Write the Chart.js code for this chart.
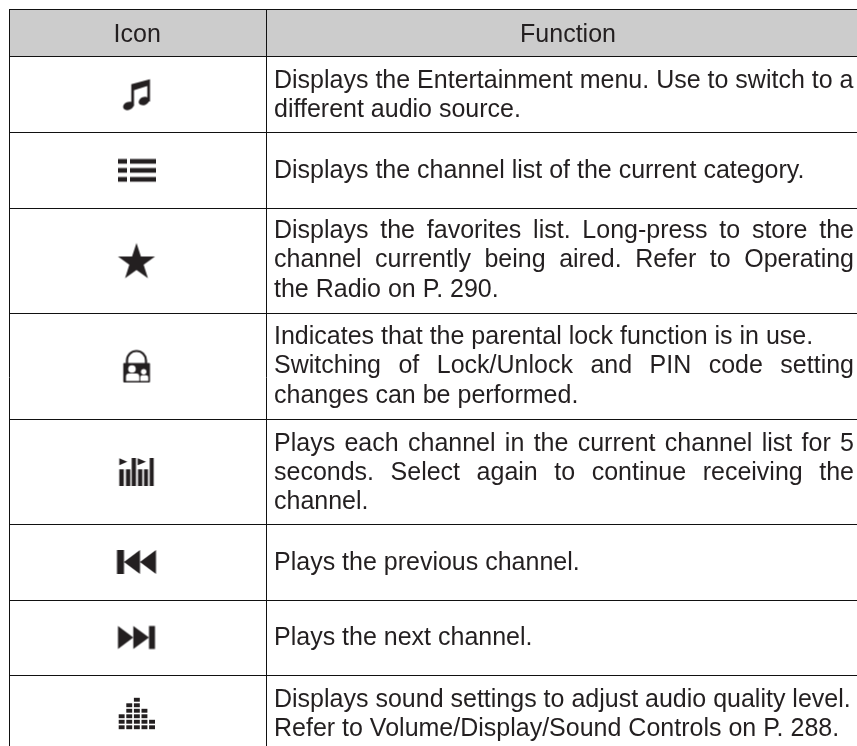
<!DOCTYPE html>
<html>
<head>
<meta charset="utf-8">
<style>
  body { margin: 0; background: #fff; }
  canvas { display: block; }
</style>
<script src="https://cdn.jsdelivr.net/npm/chart.js@4"></script>
</head>
<body>
<canvas id="tableChart" width="857" height="746"></canvas>
<script>
// table structure
const colEdges = [9.5, 266.5];
const rowEdges = [9.5, 56, 132, 208, 313, 419, 524, 600, 675];
const headerLabels = ['Icon', 'Function'];

const iconNames = ['music', 'list', 'star', 'lock', 'scan', 'prev', 'next', 'sound'];
const iconX = [136.5, 137, 136.5, 136.5, 136.5, 136.5, 136.5, 137];
const iconY = [94.5, 170.5, 260.5, 366.5, 472, 562, 637.5, 714];

const functionLines = [
  'Displays the Entertainment menu. Use to switch to a',
  'different audio source.',
  'Displays the channel list of the current category.',
  'Displays the favorites list. Long-press to store the',
  'channel currently being aired. Refer to Operating',
  'the Radio on P. 290.',
  'Indicates that the parental lock function is in use.',
  'Switching of Lock/Unlock and PIN code setting',
  'changes can be performed.',
  'Plays each channel in the current channel list for 5',
  'seconds. Select again to continue receiving the',
  'channel.',
  'Plays the previous channel.',
  'Plays the next channel.',
  'Displays sound settings to adjust audio quality level.',
  'Refer to Volume/Display/Sound Controls on P. 288.'
];
const lineBaselines = [87.5, 116.5, 177.5, 238, 267, 297, 344, 373, 402.5, 450.5, 479.5, 509, 570, 645, 707, 736];
const justifiedLines = [3, 4, 7, 9, 10];

const INK = '#231f20';
const FONT = '25px "Liberation Sans", Arial, sans-serif';
const TEXT_LEFT = 274;
const TEXT_RIGHT = 854;

// each icon goes on its own little canvas so it can be a point style
function makeIcon(draw) {
  const c = document.createElement('canvas');
  c.width = 48;
  c.height = 48;
  const g = c.getContext('2d');
  g.translate(24, 24);
  g.fillStyle = INK;
  g.strokeStyle = INK;
  draw(g);
  return c;
}

function poly(g, pts) {
  g.beginPath();
  pts.forEach((p, i) => (i ? g.lineTo(p[0], p[1]) : g.moveTo(p[0], p[1])));
  g.closePath();
  g.fill();
}

const iconDrawers = {
  music(g) {
    poly(g, [[-5.2, -10.3], [13.5, -15.3], [13.5, 7], [10.8, 7], [10.8, -8.4], [-2.5, -4.3], [-2.5, 11.5], [-5.2, 11.5]]);
    g.beginPath();
    g.ellipse(-8.1, 11.4, 5.5, 4, -0.4, 0, Math.PI * 2);
    g.ellipse(7.5, 6.5, 5.5, 4, -0.4, 0, Math.PI * 2);
    g.fill();
  },
  list(g) {
    [-11.5, -2.5, 6.5].forEach(y => {
      g.fillRect(-19, y, 9, 4.7);
      g.fillRect(-7, y, 26, 4.7);
    });
  },
  star(g) {
    const pts = [];
    for (let i = 0; i < 10; i++) {
      const r = i % 2 ? 7.5 : 19.5;
      const a = -Math.PI / 2 + i * Math.PI / 5;
      pts.push([r * Math.cos(a), 2 + r * Math.sin(a)]);
    }
    poly(g, pts);
  },
  lock(g) {
    g.lineWidth = 2.2;
    g.beginPath();
    g.moveTo(-9.5, -2);
    g.lineTo(-9.5, -6);
    g.arc(0, -6, 9.5, Math.PI, 0);
    g.lineTo(9.5, -2);
    g.stroke();
    g.beginPath();
    g.roundRect(-13.2, -3.5, 26.7, 19.5, 1);
    g.fill();
    g.fillStyle = '#fff';
    g.beginPath();
    g.arc(-4.5, 2.5, 3.8, 0, Math.PI * 2);
    g.fill();
    g.beginPath();
    g.arc(7.2, 5.2, 2.7, 0, Math.PI * 2);
    g.fill();
    g.beginPath();
    g.roundRect(-10.5, 7, 13.3, 7.5, [3, 3, 0, 0]);
    g.fill();
    g.beginPath();
    g.roundRect(3.8, 8.8, 8, 5.7, [2, 2, 0, 0]);
    g.fill();
  },
  scan(g) {
    // bars, then the two little play triangles
    [[-17.2, -2.7, 4.5], [-10.5, -2.7, 4.3], [-4.8, -14, 4.3], [1.5, -2.7, 4.3], [7.5, -2.7, 4], [13.2, -14, 4]]
      .forEach(b => g.fillRect(b[0], b[1], b[2], 14 - b[1]));
    poly(g, [[-17.2, -13.7], [-9.2, -10.2], [-17.2, -6.7]]);
    poly(g, [[1.2, -13.7], [9.5, -10.2], [1.2, -6.7]]);
  },
  prev(g) {
    g.fillRect(-19.5, -12, 7, 24);
    poly(g, [[-12.5, 0], [3.5, -12], [3.5, 12]]);
    poly(g, [[3.5, 0], [19.5, -12], [19.5, 12]]);
  },
  next(g) {
    g.fillRect(12.5, -11.5, 6, 23);
    poly(g, [[-18.5, -11.5], [-3.2, 0], [-18.5, 11.5]]);
    poly(g, [[-3.2, -11.5], [12.5, 0], [-3.2, 11.5]]);
  },
  sound(g) {
    // stack of blocks, tallest in the middle
    [3, 5, 6, 4, 2].forEach((n, col) => {
      for (let r = 0; r < n; r++) {
        g.fillRect(-18.3 + col * 7.6, 11.3 - r * 5.5, 5.9, 3.9);
      }
    });
  }
};

const iconImages = iconNames.map(n => makeIcon(iconDrawers[n]));

// paints the page, the header band and the words
const tablePainter = {
  id: 'tablePainter',
  beforeDraw(chart) {
    const { ctx, scales: { x, y } } = chart;
    ctx.save();
    ctx.fillStyle = '#fff';
    ctx.fillRect(0, 0, chart.width, chart.height);
    ctx.fillStyle = '#cccccc';
    ctx.fillRect(x.getPixelForValue(colEdges[0]), y.getPixelForValue(rowEdges[0]),
      chart.width, y.getPixelForValue(rowEdges[1]) - y.getPixelForValue(rowEdges[0]));
    ctx.restore();
  },
  afterDraw(chart) {
    const { ctx, scales: { x, y } } = chart;
    ctx.save();
    ctx.font = FONT;
    ctx.fillStyle = INK;
    ctx.textBaseline = 'alphabetic';
    ctx.textAlign = 'center';
    ctx.fillText(headerLabels[0], x.getPixelForValue(137.2), y.getPixelForValue(42));
    ctx.fillText(headerLabels[1], x.getPixelForValue(568), y.getPixelForValue(42));
    ctx.textAlign = 'left';
    functionLines.forEach((line, i) => {
      const by = y.getPixelForValue(lineBaselines[i]);
      if (!justifiedLines.includes(i)) {
        ctx.fillText(line, TEXT_LEFT, by);
        return;
      }
      const words = line.split(' ');
      const used = words.reduce((s, w) => s + ctx.measureText(w).width, 0);
      const gap = (TEXT_RIGHT - TEXT_LEFT - used) / (words.length - 1);
      let px = TEXT_LEFT;
      words.forEach(w => {
        ctx.fillText(w, px, by);
        px += ctx.measureText(w).width + gap;
      });
    });
    ctx.restore();
  }
};

new Chart(document.getElementById('tableChart'), {
  type: 'scatter',
  data: {
    datasets: [{
      data: iconNames.map((n, i) => ({ x: iconX[i], y: iconY[i] })),
      pointStyle: iconImages,
      pointRadius: 10
    }]
  },
  options: {
    responsive: false,
    animation: false,
    layout: { autoPadding: false, padding: { left: 9, top: 9 } },
    plugins: { legend: { display: false }, tooltip: { enabled: false } },
    scales: {
      x: {
        type: 'linear',
        min: 9,
        max: 857,
        border: { display: false },
        ticks: { display: false },
        grid: { color: '#111', lineWidth: 1, drawTicks: false },
        afterBuildTicks: axis => { axis.ticks = colEdges.map(v => ({ value: v })); }
      },
      y: {
        type: 'linear',
        reverse: true,
        min: 9,
        max: 746,
        border: { display: false },
        ticks: { display: false },
        grid: { color: '#111', lineWidth: 1, drawTicks: false },
        afterBuildTicks: axis => { axis.ticks = rowEdges.map(v => ({ value: v })); }
      }
    }
  },
  plugins: [tablePainter]
});
</script>
</body>
</html>
